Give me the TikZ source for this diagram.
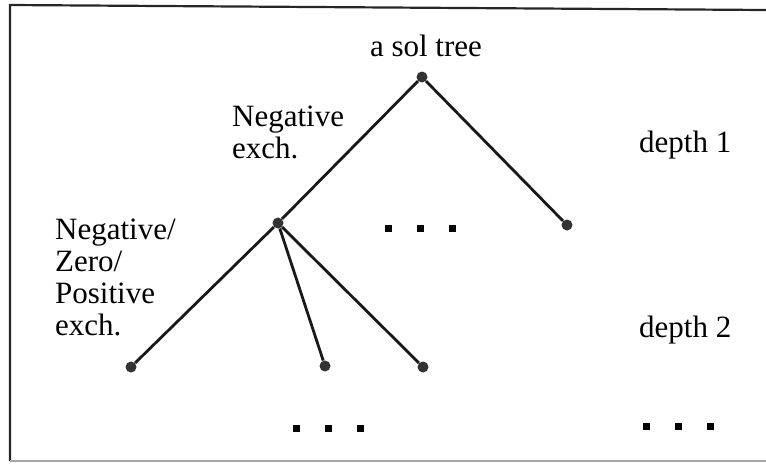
\documentclass[tikz,border=0pt]{standalone}
\usepackage{fontspec}
\setmainfont{Liberation Serif}
\begin{document}
\begin{tikzpicture}[x=1pt,y=-1pt,
  vert/.style={circle,fill=black!80,inner sep=0pt,minimum size=11pt},
  edge/.style={line width=2.8pt,black!90},
  dotsq/.style={rectangle,fill=black,inner sep=0pt,minimum size=7pt},
  lbl/.style={font=\fontsize{31}{32}\selectfont,inner sep=0pt,align=left,anchor=base west},
  frame/.style={line width=2.2pt,black!85}]
\useasboundingbox (0,0) rectangle (766,464);
% frame
\coordinate (ftl) at (10,5);
\coordinate (ftr) at (766,10);
\coordinate (fbl) at (10,461);
\coordinate (fbr) at (766,461);
\draw[frame] (ftr) -- (ftl) -- (fbl);
\draw[line width=1.5pt,black!35] (fbl) -- (fbr);
% tree vertices
\node[vert] (r) at (422,77) {};
\node[vert] (a) at (278,223) {};
\node[vert] (b) at (567,225) {};
\node[vert] (l1) at (131,367) {};
\node[vert] (l2) at (325,366) {};
\node[vert] (l3) at (423,367) {};
% edges
\draw[edge] (r) -- (a);
\draw[edge] (r) -- (b);
\draw[edge] (a) -- (l1);
\draw[edge] (a) -- (l2);
\draw[edge] (a) -- (l3);
% ellipsis dots
\node[dotsq] (m1) at (388,228) {};
\node[dotsq] (m2) at (420,228) {};
\node[dotsq] (m3) at (452,228) {};
\node[dotsq] (d1) at (296,428) {};
\node[dotsq] (d2) at (328,428) {};
\node[dotsq] (d3) at (360,428) {};
\node[dotsq] (e1) at (646,426) {};
\node[dotsq] (e2) at (678,426) {};
\node[dotsq] (e3) at (710,426) {};
% labels
\node[lbl,anchor=base] (t) at (426,56) {a sol tree};
\node[lbl] (ne) at (232,158) {Negative\\exch.};
\node[lbl] (d1l) at (639,152) {depth 1};
\node[lbl] (d2l) at (639,337) {depth 2};
\node[lbl] (nzp) at (55,335) {Negative/\\Zero/\\Positive\\exch.};
\end{tikzpicture}
\end{document}
